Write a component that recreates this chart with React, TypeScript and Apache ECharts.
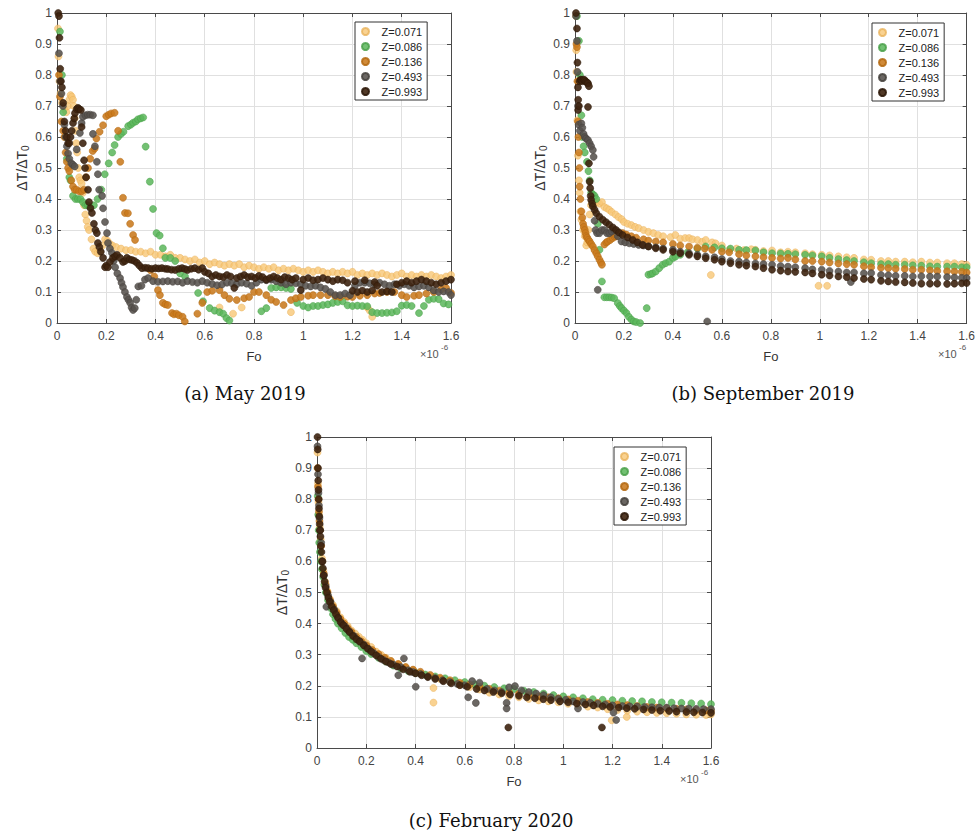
import React, { useEffect, useRef } from "react";
import * as echarts from "echarts";

// Fo values are stored in units of 1e-6
const SERIES_NAMES = ["Z=0.071", "Z=0.086", "Z=0.136", "Z=0.493", "Z=0.993"];
const X_TICKS = [0, 0.2, 0.4, 0.6, 0.8, 1, 1.2, 1.4, 1.6];
const Y_TICKS = [0, 0.1, 0.2, 0.3, 0.4, 0.5, 0.6, 0.7, 0.8, 0.9, 1];
const CAPTIONS = ["(a) May 2019", "(b) September 2019", "(c) February 2020"];

// ---------- (a) May 2019 ----------
const A_Z071 = [[0.004,0.95],[0.006,0.86],[0.01,0.78],[0.014,0.74],[0.02,0.71],[0.03,0.69],[0.038,0.68],[0.045,0.7],[0.05,0.72],[0.055,0.735],[0.06,0.73],[0.065,0.72],[0.068,0.7],[0.072,0.66],[0.075,0.62],[0.078,0.58],[0.082,0.55],[0.086,0.5],[0.09,0.47],[0.095,0.46],[0.1,0.45],[0.105,0.42],[0.11,0.38],[0.115,0.35],[0.12,0.33],[0.125,0.31],[0.13,0.3],[0.14,0.27],[0.148,0.24],[0.155,0.23],[0.165,0.225],[0.175,0.23],[0.185,0.25],[0.195,0.27],[0.205,0.265],[0.215,0.255],[0.225,0.25],[0.24,0.245],[0.26,0.24],[0.28,0.235],[0.3,0.235],[0.32,0.23],[0.34,0.23],[0.36,0.225],[0.38,0.23],[0.4,0.22],[0.42,0.22],[0.44,0.215],[0.46,0.22],[0.48,0.21],[0.5,0.21],[0.52,0.205],[0.54,0.2],[0.56,0.205],[0.58,0.195],[0.6,0.2],[0.62,0.19],[0.64,0.195],[0.66,0.19],[0.68,0.185],[0.7,0.19],[0.72,0.185],[0.74,0.19],[0.76,0.18],[0.78,0.185],[0.8,0.18],[0.82,0.175],[0.84,0.18],[0.86,0.175],[0.88,0.18],[0.9,0.17],[0.92,0.175],[0.94,0.17],[0.96,0.175],[0.98,0.17],[1.0,0.165],[1.02,0.17],[1.04,0.165],[1.06,0.17],[1.08,0.165],[1.1,0.16],[1.12,0.165],[1.14,0.16],[1.16,0.165],[1.18,0.16],[1.2,0.165],[1.22,0.155],[1.24,0.16],[1.26,0.155],[1.28,0.16],[1.3,0.155],[1.32,0.16],[1.34,0.155],[1.36,0.15],[1.38,0.155],[1.4,0.16],[1.42,0.15],[1.44,0.155],[1.46,0.15],[1.48,0.155],[1.5,0.15],[1.52,0.155],[1.54,0.15],[1.56,0.145],[1.58,0.15],[1.6,0.155],[0.66,0.05],[0.715,0.03],[0.75,0.05],[0.95,0.035],[1.26,0.05],[1.27,0.04],[1.28,0.02]];
const A_Z086 = [[0.012,0.94],[0.02,0.8],[0.025,0.68],[0.035,0.6],[0.04,0.53],[0.05,0.47],[0.055,0.46],[0.065,0.41],[0.075,0.4],[0.085,0.4],[0.095,0.4],[0.105,0.39],[0.115,0.38],[0.125,0.38],[0.135,0.375],[0.15,0.38],[0.165,0.4],[0.18,0.43],[0.194,0.48],[0.21,0.515],[0.224,0.55],[0.234,0.574],[0.248,0.6],[0.26,0.61],[0.27,0.617],[0.289,0.635],[0.3,0.64],[0.309,0.646],[0.32,0.65],[0.329,0.657],[0.34,0.66],[0.35,0.663],[0.36,0.569],[0.377,0.456],[0.39,0.368],[0.404,0.29],[0.417,0.282],[0.43,0.241],[0.44,0.21],[0.46,0.21],[0.48,0.2],[0.5,0.16],[0.52,0.15],[0.573,0.097],[0.593,0.07],[0.62,0.048],[0.64,0.04],[0.66,0.035],[0.675,0.03],[0.688,0.016],[0.7,0.008],[0.83,0.038],[0.85,0.048],[0.87,0.113],[0.89,0.115],[0.91,0.115],[0.93,0.113],[0.95,0.11],[0.975,0.065],[1.0,0.055],[1.02,0.05],[1.04,0.055],[1.06,0.055],[1.08,0.058],[1.1,0.06],[1.12,0.065],[1.14,0.068],[1.16,0.07],[1.18,0.057],[1.2,0.055],[1.22,0.056],[1.24,0.055],[1.26,0.054],[1.28,0.035],[1.3,0.032],[1.32,0.032],[1.34,0.033],[1.36,0.034],[1.38,0.038],[1.4,0.056],[1.42,0.058],[1.44,0.055],[1.47,0.032],[1.49,0.055],[1.51,0.075],[1.53,0.078],[1.55,0.077],[1.57,0.063],[1.59,0.06]];
const A_Z136 = [[0.008,0.8],[0.012,0.73],[0.018,0.65],[0.025,0.62],[0.03,0.6],[0.035,0.55],[0.04,0.52],[0.045,0.5],[0.05,0.49],[0.058,0.46],[0.065,0.44],[0.072,0.43],[0.08,0.43],[0.09,0.425],[0.1,0.425],[0.11,0.43],[0.118,0.47],[0.126,0.5],[0.135,0.53],[0.145,0.555],[0.153,0.563],[0.16,0.595],[0.173,0.617],[0.187,0.638],[0.2,0.667],[0.21,0.672],[0.22,0.676],[0.234,0.678],[0.248,0.62],[0.257,0.52],[0.268,0.404],[0.276,0.355],[0.288,0.354],[0.297,0.32],[0.309,0.284],[0.317,0.268],[0.38,0.17],[0.395,0.15],[0.41,0.106],[0.418,0.09],[0.43,0.065],[0.44,0.06],[0.45,0.058],[0.467,0.032],[0.475,0.028],[0.485,0.03],[0.495,0.025],[0.51,0.02],[0.519,0.005],[0.57,0.03],[0.59,0.065],[0.61,0.1],[0.63,0.104],[0.66,0.106],[0.68,0.09],[0.7,0.078],[0.73,0.074],[0.76,0.08],[0.78,0.084],[0.8,0.1],[0.82,0.1],[0.85,0.09],[0.87,0.075],[0.89,0.068],[0.92,0.058],[0.95,0.074],[0.97,0.08],[0.99,0.084],[1.02,0.088],[1.04,0.09],[1.07,0.09],[1.1,0.09],[1.13,0.086],[1.15,0.084],[1.18,0.085],[1.2,0.084],[1.23,0.088],[1.26,0.09],[1.29,0.095],[1.31,0.097],[1.34,0.1],[1.37,0.1],[1.4,0.09],[1.42,0.084],[1.45,0.088],[1.47,0.09],[1.5,0.095],[1.53,0.1],[1.56,0.108],[1.58,0.113],[1.6,0.097]];
const A_Z493 = [[0.008,0.87],[0.012,0.78],[0.018,0.74],[0.024,0.7],[0.03,0.64],[0.035,0.6],[0.04,0.57],[0.045,0.547],[0.05,0.53],[0.058,0.515],[0.065,0.51],[0.072,0.505],[0.08,0.56],[0.093,0.613],[0.1,0.645],[0.105,0.665],[0.115,0.67],[0.125,0.672],[0.135,0.672],[0.146,0.67],[0.146,0.61],[0.154,0.57],[0.162,0.52],[0.166,0.48],[0.171,0.43],[0.183,0.41],[0.187,0.37],[0.195,0.326],[0.203,0.29],[0.207,0.258],[0.215,0.24],[0.223,0.226],[0.23,0.2],[0.236,0.18],[0.245,0.16],[0.256,0.145],[0.262,0.13],[0.268,0.116],[0.276,0.1],[0.284,0.084],[0.29,0.075],[0.297,0.065],[0.303,0.05],[0.309,0.042],[0.316,0.048],[0.322,0.075],[0.33,0.118],[0.343,0.12],[0.357,0.14],[0.37,0.145],[0.39,0.135],[0.41,0.133],[0.43,0.134],[0.45,0.135],[0.47,0.133],[0.49,0.134],[0.51,0.13],[0.53,0.135],[0.55,0.132],[0.57,0.13],[0.59,0.135],[0.61,0.13],[0.63,0.126],[0.65,0.122],[0.67,0.124],[0.69,0.13],[0.71,0.128],[0.73,0.125],[0.75,0.13],[0.77,0.127],[0.79,0.12],[0.81,0.13],[0.83,0.14],[0.85,0.138],[0.87,0.14],[0.89,0.135],[0.91,0.13],[0.93,0.125],[0.95,0.13],[0.97,0.128],[0.99,0.125],[1.01,0.12],[1.03,0.118],[1.05,0.12],[1.07,0.115],[1.09,0.11],[1.11,0.1],[1.13,0.09],[1.15,0.09],[1.17,0.095],[1.19,0.09],[1.21,0.12],[1.23,0.13],[1.25,0.13],[1.27,0.128],[1.29,0.125],[1.31,0.13],[1.33,0.125],[1.35,0.12],[1.37,0.125],[1.39,0.12],[1.41,0.125],[1.43,0.12],[1.45,0.115],[1.47,0.118],[1.49,0.12],[1.51,0.115],[1.53,0.105],[1.55,0.1],[1.57,0.102],[1.59,0.1],[1.6,0.09]];
const A_Z993 = [[0.005,1.0],[0.008,0.99],[0.01,0.92],[0.013,0.82],[0.016,0.78],[0.02,0.76],[0.025,0.71],[0.03,0.65],[0.035,0.62],[0.04,0.6],[0.045,0.58],[0.05,0.58],[0.055,0.6],[0.06,0.62],[0.065,0.645],[0.07,0.66],[0.073,0.677],[0.08,0.69],[0.085,0.694],[0.09,0.69],[0.097,0.687],[0.1,0.632],[0.105,0.58],[0.11,0.525],[0.114,0.5],[0.118,0.47],[0.126,0.43],[0.13,0.39],[0.136,0.37],[0.142,0.355],[0.15,0.32],[0.156,0.3],[0.162,0.29],[0.166,0.258],[0.172,0.245],[0.178,0.23],[0.187,0.21],[0.195,0.18],[0.2,0.185],[0.207,0.18],[0.215,0.197],[0.227,0.21],[0.236,0.215],[0.244,0.22],[0.256,0.21],[0.268,0.197],[0.276,0.2],[0.284,0.21],[0.295,0.205],[0.305,0.203],[0.315,0.2],[0.325,0.194],[0.335,0.185],[0.345,0.177],[0.358,0.178],[0.37,0.177],[0.385,0.175],[0.4,0.177],[0.413,0.176],[0.426,0.177],[0.44,0.175],[0.45,0.174],[0.465,0.172],[0.48,0.171],[0.495,0.175],[0.508,0.177],[0.52,0.174],[0.53,0.171],[0.545,0.175],[0.56,0.177],[0.575,0.172],[0.59,0.177],[0.6,0.165],[0.615,0.16],[0.63,0.15],[0.645,0.155],[0.66,0.15],[0.675,0.148],[0.69,0.155],[0.705,0.15],[0.72,0.113],[0.73,0.145],[0.745,0.15],[0.76,0.155],[0.775,0.148],[0.79,0.15],[0.805,0.145],[0.82,0.152],[0.835,0.148],[0.85,0.14],[0.865,0.145],[0.88,0.15],[0.895,0.145],[0.91,0.14],[0.925,0.148],[0.94,0.145],[0.955,0.14],[0.97,0.145],[0.99,0.106],[1.0,0.14],[1.02,0.145],[1.04,0.138],[1.06,0.14],[1.08,0.145],[1.1,0.14],[1.12,0.135],[1.14,0.14],[1.16,0.138],[1.18,0.13],[1.2,0.104],[1.21,0.135],[1.22,0.1],[1.24,0.105],[1.25,0.138],[1.26,0.1],[1.28,0.105],[1.29,0.132],[1.3,0.12],[1.32,0.1],[1.34,0.102],[1.36,0.1],[1.38,0.125],[1.4,0.13],[1.42,0.135],[1.44,0.13],[1.46,0.135],[1.48,0.14],[1.5,0.135],[1.52,0.13],[1.54,0.125],[1.56,0.13],[1.58,0.135],[1.6,0.14]];

// ---------- (b) September 2019 ----------
const B_Z071 = [[0.004,0.99],[0.005,0.88],[0.006,0.81],[0.01,0.654],[0.012,0.54],[0.016,0.46],[0.019,0.42],[0.022,0.36],[0.026,0.333],[0.033,0.3],[0.04,0.28],[0.046,0.25],[0.05,0.26],[0.055,0.3],[0.06,0.35],[0.065,0.38],[0.07,0.39],[0.08,0.387],[0.09,0.39],[0.1,0.385],[0.11,0.39],[0.12,0.374],[0.13,0.37],[0.14,0.365],[0.15,0.358],[0.165,0.35],[0.177,0.342],[0.19,0.335],[0.2,0.326],[0.215,0.32],[0.23,0.316],[0.245,0.31],[0.26,0.306],[0.28,0.3],[0.3,0.294],[0.32,0.29],[0.34,0.284],[0.36,0.28],[0.39,0.277],[0.41,0.284],[0.43,0.272],[0.45,0.274],[0.466,0.274],[0.48,0.27],[0.5,0.268],[0.52,0.262],[0.534,0.268],[0.555,0.155],[0.56,0.26],[0.574,0.257],[0.6,0.25],[0.63,0.236],[0.66,0.24],[0.69,0.235],[0.72,0.238],[0.737,0.236],[0.77,0.232],[0.805,0.234],[0.84,0.228],[0.87,0.23],[0.9,0.228],[0.94,0.225],[0.97,0.222],[0.995,0.12],[1.008,0.22],[1.03,0.12],[1.04,0.218],[1.076,0.215],[1.11,0.212],[1.14,0.21],[1.18,0.205],[1.21,0.204],[1.25,0.2],[1.28,0.2],[1.31,0.198],[1.347,0.198],[1.38,0.196],[1.415,0.198],[1.45,0.195],[1.48,0.195],[1.52,0.193],[1.55,0.193],[1.58,0.19],[1.6,0.188]];
const B_Z086 = [[0.008,0.99],[0.016,0.91],[0.02,0.8],[0.026,0.67],[0.03,0.6],[0.035,0.57],[0.04,0.55],[0.049,0.52],[0.055,0.49],[0.06,0.46],[0.066,0.42],[0.073,0.415],[0.08,0.41],[0.087,0.4],[0.093,0.32],[0.1,0.236],[0.11,0.134],[0.12,0.083],[0.13,0.083],[0.14,0.083],[0.15,0.082],[0.16,0.08],[0.175,0.064],[0.183,0.055],[0.19,0.048],[0.2,0.04],[0.21,0.032],[0.22,0.02],[0.23,0.011],[0.24,0.005],[0.25,0.003],[0.266,0.0],[0.293,0.048],[0.3,0.156],[0.31,0.158],[0.317,0.16],[0.33,0.166],[0.344,0.177],[0.358,0.188],[0.37,0.193],[0.385,0.198],[0.4,0.21],[0.41,0.214],[0.43,0.22],[0.46,0.228],[0.5,0.24],[0.534,0.247],[0.57,0.244],[0.6,0.241],[0.635,0.24],[0.67,0.236],[0.7,0.235],[0.737,0.234],[0.77,0.228],[0.805,0.225],[0.84,0.224],[0.87,0.223],[0.9,0.222],[0.94,0.22],[0.97,0.218],[1.008,0.215],[1.04,0.21],[1.076,0.206],[1.11,0.203],[1.14,0.2],[1.18,0.196],[1.21,0.193],[1.25,0.19],[1.28,0.19],[1.31,0.188],[1.347,0.188],[1.38,0.186],[1.415,0.185],[1.45,0.183],[1.48,0.182],[1.52,0.182],[1.55,0.182],[1.58,0.18],[1.6,0.18]];
const B_Z136 = [[0.006,0.9],[0.008,0.89],[0.01,0.78],[0.012,0.65],[0.014,0.6],[0.016,0.55],[0.018,0.5],[0.019,0.44],[0.022,0.4],[0.026,0.36],[0.03,0.34],[0.033,0.32],[0.036,0.31],[0.04,0.3],[0.043,0.29],[0.046,0.28],[0.05,0.275],[0.055,0.268],[0.06,0.263],[0.066,0.255],[0.073,0.247],[0.08,0.235],[0.087,0.225],[0.093,0.215],[0.1,0.204],[0.106,0.195],[0.11,0.188],[0.12,0.253],[0.128,0.26],[0.134,0.263],[0.144,0.268],[0.154,0.274],[0.162,0.278],[0.168,0.28],[0.18,0.29],[0.195,0.29],[0.21,0.285],[0.23,0.28],[0.25,0.275],[0.28,0.27],[0.3,0.266],[0.33,0.263],[0.36,0.26],[0.4,0.255],[0.43,0.25],[0.466,0.247],[0.5,0.243],[0.53,0.24],[0.56,0.236],[0.6,0.23],[0.63,0.228],[0.67,0.222],[0.7,0.218],[0.737,0.215],[0.77,0.212],[0.805,0.21],[0.84,0.208],[0.87,0.21],[0.9,0.205],[0.94,0.2],[0.97,0.2],[1.008,0.198],[1.04,0.195],[1.076,0.192],[1.11,0.19],[1.14,0.188],[1.18,0.183],[1.21,0.18],[1.25,0.178],[1.28,0.177],[1.31,0.175],[1.347,0.174],[1.38,0.172],[1.415,0.172],[1.45,0.17],[1.48,0.168],[1.52,0.167],[1.55,0.166],[1.58,0.165],[1.6,0.163]];
const B_Z493 = [[0.004,0.99],[0.008,0.91],[0.01,0.81],[0.012,0.7],[0.015,0.64],[0.02,0.62],[0.026,0.644],[0.03,0.63],[0.035,0.61],[0.04,0.6],[0.045,0.595],[0.053,0.59],[0.06,0.58],[0.066,0.57],[0.073,0.558],[0.076,0.536],[0.08,0.33],[0.084,0.3],[0.09,0.29],[0.093,0.107],[0.1,0.29],[0.11,0.3],[0.12,0.3],[0.13,0.29],[0.14,0.29],[0.15,0.295],[0.16,0.3],[0.175,0.28],[0.19,0.263],[0.205,0.26],[0.222,0.257],[0.24,0.255],[0.26,0.252],[0.28,0.25],[0.3,0.247],[0.33,0.244],[0.36,0.24],[0.4,0.236],[0.43,0.23],[0.466,0.225],[0.5,0.22],[0.534,0.215],[0.54,0.005],[0.57,0.212],[0.6,0.206],[0.635,0.2],[0.67,0.198],[0.7,0.195],[0.737,0.192],[0.77,0.19],[0.805,0.188],[0.84,0.184],[0.87,0.182],[0.9,0.18],[0.94,0.177],[0.97,0.173],[1.008,0.172],[1.04,0.168],[1.076,0.166],[1.11,0.163],[1.127,0.132],[1.14,0.163],[1.18,0.16],[1.21,0.161],[1.25,0.155],[1.28,0.154],[1.31,0.152],[1.347,0.152],[1.38,0.15],[1.415,0.151],[1.45,0.15],[1.48,0.15],[1.52,0.148],[1.55,0.147],[1.58,0.146],[1.6,0.145]];
const B_Z993 = [[0.004,1.0],[0.008,0.95],[0.01,0.84],[0.012,0.76],[0.013,0.72],[0.0126,0.687],[0.016,0.7],[0.019,0.78],[0.023,0.785],[0.026,0.783],[0.03,0.78],[0.035,0.785],[0.04,0.783],[0.045,0.778],[0.05,0.775],[0.053,0.773],[0.057,0.764],[0.053,0.697],[0.057,0.515],[0.06,0.456],[0.062,0.435],[0.064,0.41],[0.066,0.397],[0.07,0.385],[0.073,0.376],[0.08,0.365],[0.087,0.354],[0.1,0.343],[0.114,0.333],[0.127,0.325],[0.14,0.317],[0.155,0.308],[0.168,0.3],[0.18,0.292],[0.195,0.284],[0.215,0.276],[0.236,0.268],[0.255,0.26],[0.276,0.252],[0.3,0.247],[0.33,0.241],[0.36,0.236],[0.4,0.23],[0.43,0.225],[0.466,0.22],[0.5,0.215],[0.534,0.209],[0.57,0.204],[0.6,0.198],[0.635,0.193],[0.67,0.188],[0.7,0.185],[0.737,0.182],[0.77,0.177],[0.805,0.172],[0.84,0.169],[0.87,0.166],[0.9,0.165],[0.94,0.163],[0.97,0.16],[1.008,0.156],[1.04,0.153],[1.076,0.15],[1.11,0.148],[1.14,0.145],[1.18,0.142],[1.21,0.14],[1.25,0.136],[1.28,0.134],[1.31,0.132],[1.347,0.131],[1.38,0.129],[1.415,0.127],[1.45,0.127],[1.48,0.127],[1.52,0.126],[1.55,0.127],[1.58,0.128],[1.6,0.129]];

// ---------- (c) February 2020 ----------
const C_Z071 = [[0.002,0.95],[0.004,0.85],[0.006,0.79],[0.008,0.75],[0.011,0.71],[0.015,0.67],[0.02,0.61],[0.026,0.57],[0.033,0.535],[0.042,0.505],[0.052,0.48],[0.065,0.46],[0.08,0.44],[0.095,0.42],[0.11,0.405],[0.125,0.392],[0.14,0.378],[0.155,0.368],[0.17,0.358],[0.185,0.348],[0.2,0.337],[0.22,0.325],[0.24,0.31],[0.26,0.3],[0.28,0.29],[0.3,0.28],[0.33,0.27],[0.36,0.26],[0.39,0.25],[0.42,0.24],[0.45,0.232],[0.473,0.193],[0.473,0.146],[0.5,0.222],[0.54,0.212],[0.58,0.203],[0.62,0.196],[0.66,0.188],[0.7,0.178],[0.74,0.172],[0.78,0.167],[0.82,0.163],[0.86,0.158],[0.9,0.153],[0.94,0.15],[0.98,0.147],[1.02,0.142],[1.06,0.138],[1.1,0.133],[1.14,0.13],[1.18,0.125],[1.197,0.089],[1.22,0.122],[1.258,0.1],[1.26,0.12],[1.3,0.117],[1.34,0.115],[1.38,0.113],[1.42,0.112],[1.46,0.11],[1.5,0.108],[1.54,0.107],[1.58,0.106],[1.6,0.108]];
const C_Z086 = [[0.003,0.81],[0.005,0.75],[0.007,0.7],[0.009,0.66],[0.012,0.63],[0.016,0.6],[0.02,0.575],[0.025,0.55],[0.03,0.525],[0.036,0.5],[0.045,0.475],[0.055,0.45],[0.065,0.43],[0.075,0.415],[0.085,0.4],[0.1,0.385],[0.115,0.37],[0.13,0.357],[0.145,0.348],[0.16,0.337],[0.18,0.325],[0.2,0.312],[0.22,0.302],[0.25,0.29],[0.28,0.278],[0.31,0.265],[0.34,0.256],[0.37,0.248],[0.4,0.242],[0.44,0.236],[0.48,0.23],[0.52,0.224],[0.56,0.218],[0.6,0.212],[0.64,0.205],[0.68,0.2],[0.72,0.196],[0.76,0.192],[0.8,0.19],[0.84,0.184],[0.88,0.18],[0.92,0.175],[0.96,0.17],[1.0,0.166],[1.04,0.163],[1.08,0.16],[1.12,0.157],[1.16,0.155],[1.2,0.154],[1.24,0.152],[1.28,0.151],[1.32,0.15],[1.36,0.148],[1.4,0.147],[1.44,0.146],[1.48,0.145],[1.52,0.144],[1.56,0.143],[1.6,0.141]];
const C_Z136 = [[0.002,0.9],[0.004,0.84],[0.006,0.8],[0.008,0.76],[0.01,0.73],[0.013,0.7],[0.017,0.65],[0.022,0.6],[0.028,0.56],[0.035,0.525],[0.043,0.5],[0.053,0.475],[0.065,0.455],[0.08,0.435],[0.095,0.415],[0.11,0.4],[0.125,0.385],[0.14,0.373],[0.16,0.357],[0.18,0.343],[0.2,0.33],[0.225,0.315],[0.25,0.302],[0.275,0.29],[0.3,0.28],[0.33,0.27],[0.36,0.26],[0.39,0.252],[0.42,0.245],[0.46,0.235],[0.5,0.226],[0.54,0.218],[0.58,0.21],[0.62,0.204],[0.66,0.197],[0.7,0.19],[0.74,0.184],[0.78,0.178],[0.82,0.174],[0.86,0.17],[0.9,0.166],[0.94,0.163],[0.98,0.16],[1.02,0.156],[1.06,0.152],[1.1,0.148],[1.14,0.145],[1.18,0.142],[1.22,0.14],[1.26,0.138],[1.3,0.135],[1.34,0.132],[1.38,0.13],[1.42,0.128],[1.46,0.126],[1.5,0.124],[1.54,0.122],[1.58,0.121],[1.6,0.12]];
const C_Z493 = [[0.002,0.97],[0.004,0.88],[0.006,0.82],[0.008,0.78],[0.01,0.74],[0.013,0.7],[0.017,0.66],[0.022,0.6],[0.028,0.555],[0.035,0.52],[0.038,0.454],[0.045,0.49],[0.055,0.47],[0.07,0.445],[0.085,0.42],[0.1,0.4],[0.115,0.39],[0.13,0.375],[0.15,0.36],[0.17,0.345],[0.183,0.288],[0.19,0.332],[0.21,0.318],[0.23,0.305],[0.25,0.293],[0.27,0.283],[0.29,0.275],[0.31,0.268],[0.33,0.234],[0.34,0.26],[0.353,0.288],[0.37,0.25],[0.39,0.244],[0.401,0.197],[0.42,0.238],[0.45,0.23],[0.48,0.225],[0.51,0.218],[0.54,0.212],[0.57,0.206],[0.6,0.202],[0.614,0.163],[0.63,0.215],[0.645,0.145],[0.66,0.21],[0.69,0.19],[0.72,0.185],[0.75,0.18],[0.77,0.145],[0.77,0.127],[0.78,0.195],[0.804,0.199],[0.83,0.185],[0.86,0.18],[0.89,0.175],[0.92,0.17],[0.95,0.163],[0.98,0.158],[1.01,0.155],[1.04,0.15],[1.06,0.127],[1.08,0.148],[1.11,0.145],[1.14,0.142],[1.17,0.14],[1.2,0.137],[1.204,0.114],[1.215,0.09],[1.24,0.135],[1.27,0.134],[1.3,0.133],[1.33,0.132],[1.36,0.131],[1.39,0.13],[1.42,0.13],[1.45,0.128],[1.48,0.127],[1.51,0.127],[1.54,0.126],[1.57,0.125],[1.6,0.125]];
const C_Z993 = [[0.002,1.0],[0.003,0.96],[0.004,0.9],[0.005,0.86],[0.006,0.83],[0.007,0.8],[0.008,0.77],[0.009,0.745],[0.011,0.72],[0.012,0.7],[0.014,0.68],[0.016,0.65],[0.018,0.63],[0.021,0.6],[0.024,0.578],[0.027,0.555],[0.031,0.535],[0.035,0.515],[0.04,0.5],[0.046,0.483],[0.052,0.47],[0.06,0.455],[0.068,0.443],[0.077,0.43],[0.086,0.418],[0.096,0.405],[0.107,0.395],[0.12,0.383],[0.133,0.372],[0.146,0.36],[0.16,0.35],[0.174,0.342],[0.19,0.33],[0.205,0.32],[0.22,0.31],[0.24,0.298],[0.26,0.287],[0.28,0.278],[0.3,0.27],[0.325,0.262],[0.35,0.253],[0.377,0.245],[0.4,0.24],[0.425,0.234],[0.45,0.228],[0.48,0.222],[0.513,0.215],[0.545,0.208],[0.58,0.202],[0.61,0.197],[0.648,0.19],[0.68,0.185],[0.716,0.18],[0.75,0.176],[0.777,0.066],[0.784,0.172],[0.82,0.168],[0.852,0.163],[0.885,0.16],[0.919,0.157],[0.95,0.154],[0.987,0.15],[1.02,0.147],[1.055,0.143],[1.09,0.14],[1.123,0.137],[1.157,0.066],[1.16,0.134],[1.19,0.132],[1.225,0.13],[1.258,0.128],[1.29,0.126],[1.326,0.124],[1.36,0.122],[1.394,0.12],[1.43,0.119],[1.46,0.117],[1.5,0.116],[1.53,0.115],[1.565,0.114],[1.6,0.113]];

const PANELS = [
  [A_Z071, A_Z086, A_Z136, A_Z493, A_Z993],
  [B_Z071, B_Z086, B_Z136, B_Z493, B_Z993],
  [C_Z071, C_Z086, C_Z136, C_Z493, C_Z993],
];

const COLORS = ["#F7C775", "#5BB65B", "#C97A1E", "#56524D", "#3E2410"];
const BORDERS = ["#E9B15A", "#4AA04A", "#B46A12", "#46423E", "#2E1A0A"];
const OPAC = [0.8, 0.85, 0.88, 0.88, 0.9];

const SANS = '"Liberation Sans", Arial, Helvetica, sans-serif';
const SERIF = '"DejaVu Serif", "Liberation Serif", serif';

const GRIDS = [
  { left: 57, top: 13, width: 394, height: 310 },
  { left: 575, top: 13, width: 394, height: 310 },
  { left: 317, top: 437, width: 394, height: 311 },
];
const LEGEND_POS = [
  { left: 355, top: 22 },
  { left: 872, top: 23 },
  { left: 614, top: 447 },
];
const CAPTION_POS = [
  { x: 245, y: 393 },
  { x: 763, y: 393 },
  { x: 491, y: 820 },
];

export default function App() {
  const ref = useRef<HTMLDivElement>(null);
  useEffect(() => {
    if (!ref.current) return;
    const chart = echarts.init(ref.current, undefined, { renderer: "svg" });
    const axisColor = "#4a4a4a";
    const xAxes: any[] = [];
    const yAxes: any[] = [];
    GRIDS.forEach((_, i) => {
      xAxes.push({
        type: "value", gridIndex: i, min: X_TICKS[0], max: X_TICKS[X_TICKS.length - 1], interval: 0.2,
        position: "bottom",
        name: "Fo", nameLocation: "middle", nameGap: 27,
        nameTextStyle: { fontFamily: SANS, fontSize: 13, color: "#333" },
        axisLine: { show: true, onZero: false, lineStyle: { color: axisColor, width: 1 } },
        axisTick: { show: true, inside: true, length: 4, lineStyle: { color: axisColor } },
        axisLabel: { fontFamily: SANS, fontSize: 12, color: "#444", margin: 7 },
        splitLine: { show: true, lineStyle: { color: "#e0e0e0", width: 1 } },
      });
    });
    GRIDS.forEach((_, i) => {
      xAxes.push({
        type: "value", gridIndex: i, min: 0, max: 1.6, interval: 0.2, position: "top",
        axisLine: { show: true, onZero: false, lineStyle: { color: axisColor, width: 1 } },
        axisTick: { show: true, inside: true, length: 4, lineStyle: { color: axisColor } },
        axisLabel: { show: false }, splitLine: { show: false },
      });
    });
    GRIDS.forEach((_, i) => {
      yAxes.push({
        type: "value", gridIndex: i, min: Y_TICKS[0], max: Y_TICKS[Y_TICKS.length - 1], interval: 0.1,
        position: "left",
        name: "{a|ΔT/ΔT}{b|0}", nameLocation: "middle", nameGap: 27,
        nameTextStyle: {
          color: "#333",
          rich: {
            a: { fontFamily: SANS, fontSize: 14, color: "#333" },
            b: { fontFamily: SANS, fontSize: 10, color: "#333", padding: [7, 0, 0, 0] },
          },
        },
        axisLine: { show: true, onZero: false, lineStyle: { color: axisColor, width: 1 } },
        axisTick: { show: true, inside: true, length: 4, lineStyle: { color: axisColor } },
        axisLabel: { fontFamily: SANS, fontSize: 12, color: "#444", margin: 5 },
        splitLine: { show: true, lineStyle: { color: "#e0e0e0", width: 1 } },
      });
    });
    GRIDS.forEach((_, i) => {
      yAxes.push({
        type: "value", gridIndex: i, min: 0, max: 1, interval: 0.1, position: "right",
        axisLine: { show: true, onZero: false, lineStyle: { color: axisColor, width: 1 } },
        axisTick: { show: true, inside: true, length: 4, lineStyle: { color: axisColor } },
        axisLabel: { show: false }, splitLine: { show: false },
      });
    });

    const series: any[] = [];
    PANELS.forEach((panel, p) => {
      panel.forEach((data, s) => {
        series.push({
          type: "scatter",
          name: SERIES_NAMES[s],
          xAxisIndex: p,
          yAxisIndex: p,
          data,
          symbol: "circle",
          symbolSize: 7,
          z: 2 + s,
          itemStyle: { color: COLORS[s], opacity: OPAC[s], borderColor: BORDERS[s], borderWidth: 0.6 },
          emphasis: { disabled: true },
        });
      });
    });

    const legends = LEGEND_POS.map((pos) => ({
      show: true,
      orient: "vertical",
      left: pos.left,
      top: pos.top,
      data: SERIES_NAMES.map((n) => ({ name: n, icon: "circle" })),
      itemWidth: 30,
      itemHeight: 7,
      itemGap: 2,
      padding: [3, 5, 2, 6],
      backgroundColor: "#ffffff",
      borderColor: "#333",
      borderWidth: 1,
      borderRadius: 0,
      selectedMode: false,
      textStyle: { fontFamily: SANS, fontSize: 11, color: "#222", lineHeight: 13, padding: [0, 0, 0, -4] },
      z: 10,
    }));

    const graphics: any[] = [];
    GRIDS.forEach((g) => {
      const bx = g.left + g.width - 31;
      const by = g.top + g.height;
      graphics.push({
        type: "text", left: bx, top: by + 25,
        style: { text: "×10", font: `11px ${SANS}`, fill: "#555" },
      });
      graphics.push({
        type: "text", left: bx + 21, top: by + 20,
        style: { text: "-6", font: `8px ${SANS}`, fill: "#555" },
      });
    });
    CAPTION_POS.forEach((c, i) => {
      graphics.push({
        type: "text", x: c.x, y: c.y,
        style: { text: CAPTIONS[i], font: `18px ${SERIF}`, fill: "#111", align: "center", verticalAlign: "middle" },
      });
    });

    chart.setOption({
      animation: false,
      backgroundColor: "#ffffff",
      grid: GRIDS.map((g) => ({ ...g, containLabel: false, show: false })),
      xAxis: xAxes,
      yAxis: yAxes,
      legend: legends,
      series,
      graphic: graphics,
    });
    return () => chart.dispose();
  }, []);
  return (
    <div
      ref={ref}
      style={{ position: "fixed", left: 0, top: 0, width: 978, height: 833, background: "#fff" }}
    />
  );
}
